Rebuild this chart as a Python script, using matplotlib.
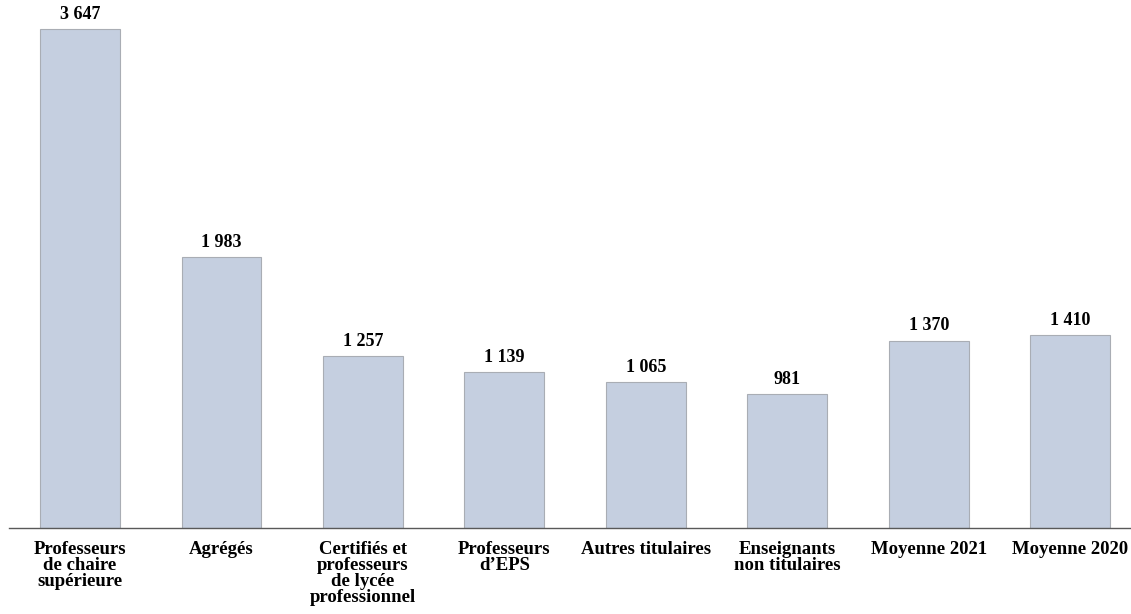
import matplotlib.pyplot as plt
import numpy as np

categories = ["Professeurs\nde chaire\nsupérieure", "Agrégés",
              "Certifiés et\nprofesseurs\nde lycée\nprofessionnel",
              "Professeurs\nd\u2019EPS", "Autres titulaires",
              "Enseignants\nnon titulaires", "Moyenne 2021", "Moyenne 2020"]
values = [3647, 1983, 1257, 1139, 1065, 981, 1370, 1410]
value_labels = ["3 647", "1 983", "1 257", "1 139", "1 065", "981", "1 370", "1 410"]

plt.rcParams['font.family'] = ['Liberation Serif', 'DejaVu Serif']

fig = plt.figure(figsize=(11.31, 6.14), dpi=100)
# plot area runs slightly past the right edge, as in the original layout
ax = fig.add_axes([9.3 / 1131, 0.140, 1131.6 / 1131, 0.860])

x = np.arange(len(categories))
ax.bar(x, values, width=0.565, color='#c5cfe0', edgecolor='#a9adb4', linewidth=0.8)

for xi, v, lab in zip(x, values, value_labels):
    ax.text(xi, v + 45, lab, ha='center', va='bottom', fontsize=13, fontweight='bold')

ax.set_xlim(-0.5, len(categories) - 0.5)
ax.set_ylim(0, 3859)
ax.set_xticks(x)
ax.set_xticklabels(categories, fontsize=13.5, fontweight='bold', linespacing=0.94)
ax.tick_params(axis='x', length=0, pad=9)
ax.set_yticks([])

for side in ['top', 'left', 'right']:
    ax.spines[side].set_visible(False)
ax.spines['bottom'].set_color('#595959')
ax.spines['bottom'].set_linewidth(1.0)

fig.savefig('out.png', dpi=100)
